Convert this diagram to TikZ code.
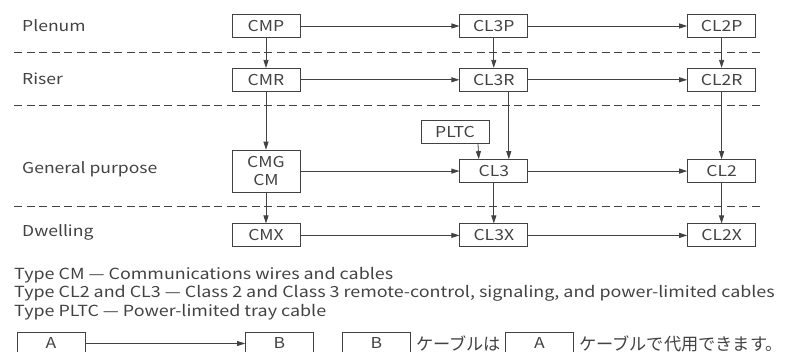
\documentclass[tikz,border=0pt]{standalone}
\usepackage{fontspec}
\setmainfont[FakeStretch=1.17]{Noto Sans CJK JP}
\newfontfamily\jpfont{Noto Sans CJK JP}
\usetikzlibrary{arrows.meta, positioning}
\usepackage{xcolor}
\definecolor{inkgray}{RGB}{66,66,66}

\begin{document}
\begin{tikzpicture}[x=1pt, y=-1pt,
  cable/.style={rectangle, draw=inkgray, text=inkgray, line width=0.8pt, minimum width=68pt, minimum height=23pt, inner sep=0pt, align=center, font=\fontsize{15}{16}\selectfont},
  rowlabel/.style={anchor=west, text=inkgray, inner sep=0pt, font=\fontsize{15}{16}\selectfont},
  note/.style={anchor=west, text=inkgray, inner sep=0pt, font=\fontsize{15.3}{16}\selectfont},
  jpnote/.style={anchor=west, text=inkgray, inner sep=0pt, font=\jpfont\fontsize{17.2}{18}\selectfont},
  arrow/.style={-{Triangle[length=8pt, width=5pt]}, color=inkgray, line width=0.8pt},
  divider/.style={dash pattern=on 8pt off 4.5pt, color=inkgray, line width=0.8pt},
]
  \clip (0,0) rectangle (792,352);

  % row labels
  \node[rowlabel] (plenum) at (22,26) {Plenum};
  \node[rowlabel] (riser) at (22,79) {Riser};
  \node[rowlabel] (general) at (22,169) {General purpose};
  \node[rowlabel] (dwelling) at (22,232) {Dwelling};

  % dividers
  \draw[divider] (14,52) -- (760,52);
  \draw[divider] (14,105) -- (760,105);
  \draw[divider] (14,206) -- (760,206);

  % CM column
  \node[cable] (cmp) at (266,26) {CMP};
  \node[cable, below=30pt of cmp] (cmr) {CMR};
  \node[cable, below=58pt of cmr, minimum height=42pt, font=\fontsize{15}{18}\selectfont] (cmg) {CMG\\CM};
  \node[cable, below=31pt of cmg] (cmx) {CMX};

  % CL3 column
  \node[cable, right=159pt of cmp] (cl3p) {CL3P};
  \node[cable, right=159pt of cmr] (cl3r) {CL3R};
  \node[cable, right=159pt of cmg] (cl3) {CL3};
  \node[cable, right=159pt of cmx] (cl3x) {CL3X};
  \node[cable] (pltc) at (455,132) {PLTC};

  % CL2 column
  \node[cable, right=159pt of cl3p] (cl2p) {CL2P};
  \node[cable, right=159pt of cl3r] (cl2r) {CL2R};
  \node[cable, right=159pt of cl3] (cl2) {CL2};
  \node[cable, right=159pt of cl3x] (cl2x) {CL2X};

  % substitutions
  \draw[arrow] (cmp) -- (cl3p);
  \draw[arrow] (cl3p) -- (cl2p);
  \draw[arrow] (cmr) -- (cl3r);
  \draw[arrow] (cl3r) -- (cl2r);
  \draw[arrow] (cmg) -- (cl3);
  \draw[arrow] (cl3) -- (cl2);
  \draw[arrow] (cmx) -- (cl3x);
  \draw[arrow] (cl3x) -- (cl2x);

  \draw[arrow] (cmp) -- (cmr);
  \draw[arrow] (cmr) -- (cmg);
  \draw[arrow] (cmg) -- (cmx);
  \draw[arrow] (cl3p) -- (cl3r);
  \draw[arrow] ([xshift=15pt]cl3r.south) -- ([xshift=15pt]cl3.north);
  \draw[arrow] ([xshift=23pt]pltc.south) -- ([xshift=-15pt]cl3.north);
  \draw[arrow] (cl3) -- (cl3x);
  \draw[arrow] (cl2p) -- (cl2r);
  \draw[arrow] (cl2r) -- (cl2);
  \draw[arrow] (cl2) -- (cl2x);

  % legend
  \node[note] (typecm) at (14,275) {Type CM — Communications wires and cables};
  \node[note] (typecl) at (14,293.5) {Type CL2 and CL3 — Class 2 and Class 3 remote-control, signaling, and power-limited cables};
  \node[note] (typepltc) at (14,312) {Type PLTC — Power-limited tray cable};

  \node[cable] (keya) at (51,343.5) {A};
  \node[cable] (keyb) at (279.5,343.5) {B};
  \draw[arrow] (keya) -- (keyb);
  \node[cable] (keyb2) at (376.5,343.5) {B};
  \node[jpnote, right=5pt of keyb2] (keytxt1) {ケーブルは};
  \node[cable] (keya2) at (539.5,343.5) {A};
  \node[jpnote, right=5pt of keya2] (keytxt2) {ケーブルで代用できます。};
\end{tikzpicture}
\end{document}
